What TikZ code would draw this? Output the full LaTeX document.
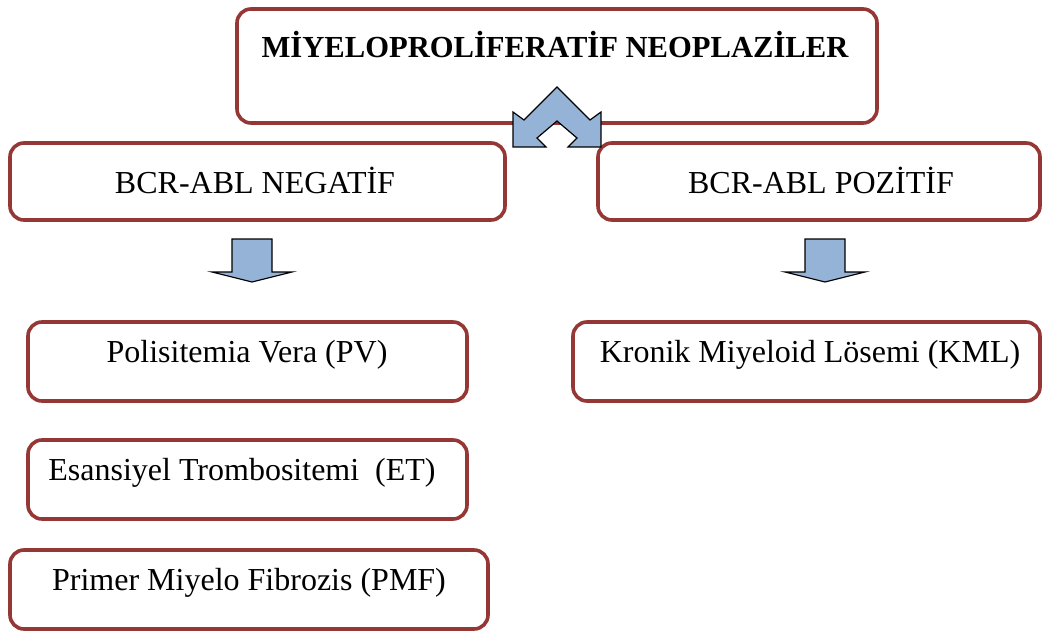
\documentclass[tikz,border=0pt]{standalone}
\usepackage{fontspec}
\setmainfont{Liberation Serif}
\definecolor{boxred}{HTML}{953735}
\definecolor{arrblue}{HTML}{95B3D7}
\begin{document}
\begin{tikzpicture}[x=1pt,y=-1pt,
  box/.style={draw=boxred, line width=3.6pt, rounded corners=14pt, fill=white, inner sep=0pt},
  txt/.style={font=\fontsize{32}{36}\selectfont, inner sep=0pt, anchor=center},
  btxt/.style={font=\fontsize{30.6}{36}\selectfont\bfseries, inner sep=0pt, anchor=center},
  arr/.style={fill=arrblue, draw=black, line width=1.2pt, line join=miter}]
\useasboundingbox (0,0) rectangle (1049,631);
% boxes
\node[box, minimum width=640pt, minimum height=114pt] (top) at (557,66) {};
\node[box, minimum width=495pt, minimum height=77pt] (neg) at (257.5,181.5) {};
\node[box, minimum width=442pt, minimum height=77pt] (pos) at (819,181.5) {};
\node[box, minimum width=439pt, minimum height=79pt] (pv) at (247.5,361.5) {};
\node[box, minimum width=439pt, minimum height=79pt] (et) at (247.5,479.5) {};
\node[box, minimum width=478pt, minimum height=79pt] (pmf) at (249,589.5) {};
\node[box, minimum width=467pt, minimum height=79pt] (kml) at (806.5,361.5) {};
% texts
\node[btxt] (ttop) at (555,45) {MİYELOPROLİFERATİF NEOPLAZİLER};
\node[txt] (tneg) at (255,180) {BCR-ABL NEGATİF};
\node[txt] (tpos) at (821,180) {BCR-ABL POZİTİF};
\node[txt] (tpv) at (247,355) {Polisitemia Vera (PV)};
\node[txt] (tet) at (242,473) {Esansiyel Trombositemi\ \ (ET)};
\node[txt] (tpmf) at (249,583) {Primer Miyelo Fibrozis (PMF)};
\node[txt] (tkml) at (810,355) {Kronik Miyeloid Lösemi (KML)};
% double arrow
\draw[arr] (557,87) -- (590,120) -- (601,112) -- (601,147) -- (568,147) -- (577,138)
  -- (557,121) -- (537,138) -- (546,147) -- (513,147) -- (513,112) -- (524,120) -- cycle;
% down arrows
\draw[arr] (232,239) -- (272,239) -- (272,272) -- (292,272) -- (252,282) -- (212,272) -- (232,272) -- cycle;
\draw[arr] (805,239) -- (845,239) -- (845,272) -- (865,272) -- (825,282) -- (785,272) -- (805,272) -- cycle;
\end{tikzpicture}
\end{document}
